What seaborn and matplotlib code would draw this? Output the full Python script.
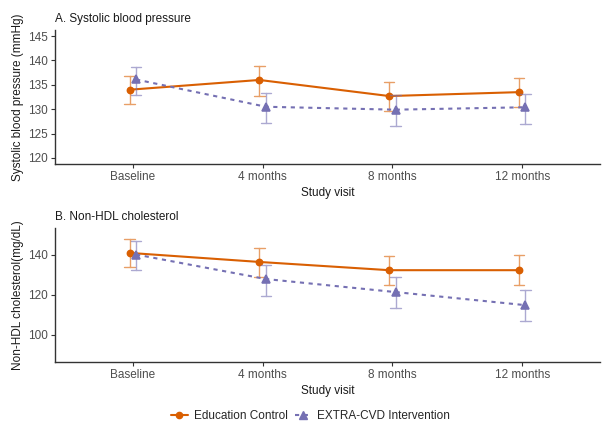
import numpy as np
import pandas as pd
import matplotlib
matplotlib.use("Agg")
import matplotlib.pyplot as plt
import seaborn as sns
from matplotlib.lines import Line2D

visits = ["Baseline", "4 months", "8 months", "12 months"]
groups = ["Education Control", "EXTRA-CVD Intervention"]

sbp_edu_mean = [134.0, 136.0, 132.7, 133.5]
sbp_edu_lo = [131.1, 132.8, 129.7, 130.5]
sbp_edu_hi = [136.8, 138.9, 135.5, 136.5]
sbp_int_mean = [136.1, 130.5, 129.9, 130.4]
sbp_int_lo = [132.9, 127.2, 126.5, 126.9]
sbp_int_hi = [138.7, 133.4, 132.9, 133.2]

ldl_edu_mean = [140.8, 136.3, 132.2, 132.2]
ldl_edu_lo = [133.7, 128.8, 124.8, 124.8]
ldl_edu_hi = [147.5, 143.3, 139.5, 140.0]
ldl_int_mean = [140.0, 127.8, 121.3, 114.8]
ldl_int_lo = [132.5, 119.3, 113.3, 106.9]
ldl_int_hi = [146.7, 134.7, 128.6, 122.2]

sbp_ticks = [120, 125, 130, 135, 140, 145]
ldl_ticks = [100, 120, 140]

colors = {"Education Control": "#D95F02", "EXTRA-CVD Intervention": "#7570B3"}


def long_frame(edu, intv):
    rows = []
    for g, (m, lo, hi) in zip(groups, [edu, intv]):
        for v, a, b, c in zip(visits, lo, m, hi):
            for val in (a, b, c):
                rows.append({"visit": v, "group": g, "value": val})
    return pd.DataFrame(rows)


df_sbp = long_frame((sbp_edu_mean, sbp_edu_lo, sbp_edu_hi),
                    (sbp_int_mean, sbp_int_lo, sbp_int_hi))
df_ldl = long_frame((ldl_edu_mean, ldl_edu_lo, ldl_edu_hi),
                    (ldl_int_mean, ldl_int_lo, ldl_int_hi))

sns.set_theme(style="white")
plt.rcParams["font.family"] = ["Liberation Sans", "DejaVu Sans"]

fig = plt.figure(figsize=(6.03, 4.23), dpi=100)
ax1 = fig.add_axes([0.0912, 0.6123, 0.9038, 0.3167])
ax2 = fig.add_axes([0.0912, 0.1442, 0.9038, 0.3168])

panels = [
    (ax1, df_sbp, "A. Systolic blood pressure", "Systolic blood pressure (mmHg)", sbp_ticks, (118.75, 146.25)),
    (ax2, df_ldl, "B. Non-HDL cholesterol", "Non-HDL cholesterol(mg/dL)", ldl_ticks, (86.5, 153.2)),
]

dash = (0, (2.0, 2.2))

for ax, df, title, ylab, ticks, ylim in panels:
    sns.pointplot(data=df, x="visit", y="value", hue="group", order=visits,
                  hue_order=groups, palette=colors, estimator="median",
                  errorbar=("pi", 100), dodge=0.05, capsize=0.08,
                  markers=["o", "^"], linestyles=["-", dash],
                  markersize=4.5, linewidth=1.5, err_kws={"linewidth": 1.0},
                  ax=ax)
    for ln in ax.lines:
        if ln.get_marker() in ("None", "", None, " "):
            ln.set_alpha(0.6)
        elif ln.get_marker() == "^":
            ln.set_markersize(5.5)
    leg = ax.get_legend()
    if leg is not None:
        leg.remove()
    ax.set_xlim(-0.6, 3.6)
    ax.set_ylim(*ylim)
    ax.set_yticks(ticks)
    ax.set_title(title, loc="left", fontsize=8.5, color="#1a1a1a", pad=6)
    ax.set_ylabel(ylab, fontsize=8.5, color="#1a1a1a", labelpad=3)
    ax.set_xlabel("Study visit", fontsize=8.5, color="#1a1a1a", labelpad=3)
    ax.tick_params(axis="both", labelsize=8.5, labelcolor="#4d4d4d",
                   color="#333333", length=3, width=0.8, left=True, bottom=True, pad=2)
    for s in ["top", "right"]:
        ax.spines[s].set_visible(False)
    for s in ["left", "bottom"]:
        ax.spines[s].set_color("#333333")
        ax.spines[s].set_linewidth(1.0)

handles = [
    Line2D([], [], color=colors[groups[0]], marker="o", markersize=4.5, linestyle="-", linewidth=1.5),
    Line2D([], [], color=colors[groups[1]], marker="^", markersize=5.5, linestyle=dash, linewidth=1.5),
]
fig.legend(handles, groups, loc="lower center", bbox_to_anchor=(0.515, -0.022), ncol=2,
           frameon=False, fontsize=8.5, handlelength=1.4, handletextpad=0.5,
           columnspacing=0.6)

fig.savefig("out.png", dpi=100)
